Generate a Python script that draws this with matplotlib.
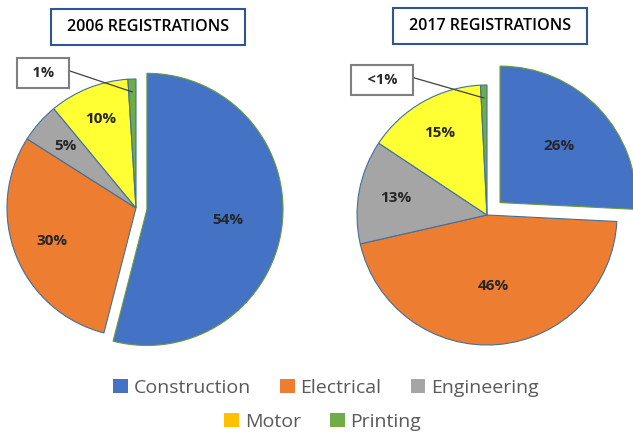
import numpy as np
import matplotlib.pyplot as plt
from matplotlib.patches import Patch, Rectangle

plt.rcParams['font.family'] = ['Open Sans', 'DejaVu Sans']

# ======================
# DATA
# ======================

categories = ['Construction', 'Electrical', 'Engineering', 'Motor', 'Printing']
values_2006 = [54, 30, 5, 10, 1]
values_2017 = [26, 46, 13, 15, 0.8]
labels_2006 = ['54%', '30%', '5%', '10%', '1%']
labels_2017 = ['26%', '46%', '13%', '15%', '<1%']
titles = ['2006 REGISTRATIONS', '2017 REGISTRATIONS']

pie_colors = ['#4472c4', '#ed7d31', '#a5a5a5', '#ffff33', '#70ad47']
legend_colors = ['#4472c4', '#ed7d31', '#a5a5a5', '#ffc000', '#70ad47']

# ======================
# LAYOUT (pixel-like coords, y up)
# ======================

W, H = 633, 434
pies = [
    dict(vals=values_2006, labs=labels_2006, center=(136, 226), r=129,
         explode=11, blue_scale=1.055, dist=[0.6, 0.7, 0.73, 0.74],
         box=(43, 361), title=(148, 407)),
    dict(vals=values_2017, labs=labels_2017, center=(487, 219), r=130,
         explode=18, blue_scale=1.05, dist=[0.6, 0.55, 0.71, 0.73],
         box=(382, 354), title=(490, 408)),
]

fig = plt.figure(figsize=(W / 100, H / 100), dpi=100)
ax = fig.add_axes([0, 0, 1, 1])

for i, p in enumerate(pies):
    n = len(p['vals'])
    # explode is in data units here (matplotlib adds it to the centre directly)
    wedges, _ = ax.pie(p['vals'], colors=pie_colors, startangle=90, counterclock=False,
                       center=p['center'], radius=p['r'],
                       explode=[p['explode']] + [0] * (n - 1),
                       wedgeprops=dict(edgecolor='#41719c', linewidth=0.8),
                       frame=True)
    wedges[0].set_radius(p['r'] * p['blue_scale'])
    wedges[0].set_edgecolor('#6a9a3c')

    # percentage labels
    for w, lab, d in zip(wedges[:4], p['labs'][:4], p['dist']):
        ang = np.radians((w.theta1 + w.theta2) / 2)
        cx, cy = w.center
        ax.text(cx + d * w.r * np.cos(ang), cy + d * w.r * np.sin(ang), lab,
                ha='center', va='center', fontsize=11, fontweight='bold',
                color='#262626')

    # callout for the tiny slice
    w = wedges[4]
    ang = np.radians((w.theta1 + w.theta2) / 2)
    cx, cy = w.center
    tx, ty = cx + 0.9 * w.r * np.cos(ang), cy + 0.9 * w.r * np.sin(ang)
    ax.annotate('  ' + p['labs'][4] + '  ', xy=(tx, ty), xytext=p['box'],
                ha='center', va='center', fontsize=10.5, fontweight='bold',
                color='#262626',
                bbox=dict(boxstyle='square,pad=0.55', fc='white', ec='#7f7f7f', lw=1.5),
                arrowprops=dict(arrowstyle='-', color='#404040', lw=0.9,
                                relpos=(1, 0.85), shrinkA=0, shrinkB=0))

    # title box
    bx, by = p['title']
    ax.add_patch(Rectangle((bx - 97, by - 18), 194, 36, fc='white', ec='#2f5597', lw=1.5))
    ax.text(bx, by, titles[i], ha='center', va='center', fontsize=11.5,
            fontweight='semibold', color='black')

ax.set_xlim(0, W)
ax.set_ylim(0, H)
ax.set_aspect('equal')
ax.axis('off')

# ======================
# LEGEND (two centred rows)
# ======================

handles = [Patch(facecolor=c, edgecolor='none') for c in legend_colors]
leg_kw = dict(frameon=False, fontsize=14, handlelength=0.75, handleheight=0.75,
              handletextpad=0.3, columnspacing=1.5, labelcolor='#595959',
              borderaxespad=0, borderpad=0)
fig.legend(handles[:3], categories[:3], ncol=3, loc='center',
           bbox_to_anchor=(0.515, 1 - 388 / H), **leg_kw)
fig.legend(handles[3:], categories[3:], ncol=2, loc='center',
           bbox_to_anchor=(0.51, 1 - 422 / H), **leg_kw)

fig.savefig('out.png', dpi=100)
